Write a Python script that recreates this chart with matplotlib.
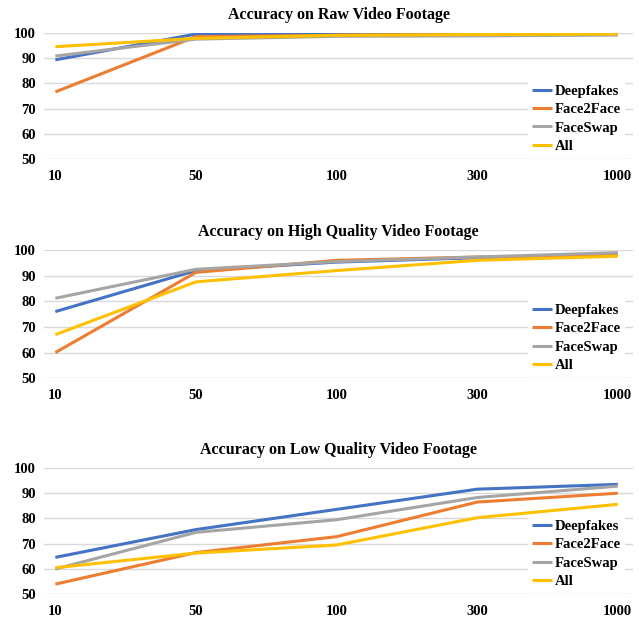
import matplotlib.pyplot as plt
import numpy as np

plt.rcParams['font.family'] = ['Liberation Serif', 'DejaVu Serif']
plt.rcParams['font.weight'] = 'bold'

samples = ["10", "50", "100", "300", "1000"]
series_names = ["Deepfakes", "Face2Face", "FaceSwap", "All"]
colors = ["#4472C4", "#ED7D31", "#A5A5A5", "#FFC000"]

raw_deepfakes = [89.3, 99.5, 99.5, 99.6, 99.6]
raw_face2face = [76.6, 98.5, 99.0, 99.3, 99.5]
raw_faceswap = [90.8, 97.5, 98.6, 98.8, 99.1]
raw_all = [94.5, 97.8, 99.0, 99.3, 99.5]

hq_deepfakes = [76.0, 92.0, 95.3, 97.0, 98.5]
hq_face2face = [60.0, 91.3, 96.0, 97.3, 98.0]
hq_faceswap = [81.2, 92.5, 95.5, 97.3, 99.0]
hq_all = [67.0, 87.6, 92.0, 96.0, 97.6]

lq_deepfakes = [64.6, 75.6, 83.6, 91.6, 93.5]
lq_face2face = [54.0, 66.5, 72.8, 86.5, 90.0]
lq_faceswap = [60.0, 74.5, 79.5, 88.3, 92.8]
lq_all = [60.5, 66.3, 69.5, 80.3, 85.6]

panels = [
    ("Accuracy on Raw Video Footage", [raw_deepfakes, raw_face2face, raw_faceswap, raw_all]),
    ("Accuracy on High Quality Video Footage", [hq_deepfakes, hq_face2face, hq_faceswap, hq_all]),
    ("Accuracy on Low Quality Video Footage", [lq_deepfakes, lq_face2face, lq_faceswap, lq_all]),
]

fig = plt.figure(figsize=(6.39, 6.19), dpi=100)
# axes boxes in figure fractions: left, bottom, width, height
boxes = [
    [0.069, 0.743, 0.922, 0.204],
    [0.069, 0.389, 0.922, 0.207],
    [0.069, 0.040, 0.922, 0.204],
]

x = np.arange(len(samples))
for (title, data), box in zip(panels, boxes):
    ax = fig.add_axes(box)
    for name, vals, c in zip(series_names, data, colors):
        ax.plot(x, vals, color=c, lw=2.2, label=name, solid_capstyle="butt")
    ax.set_ylim(50, 100)
    ax.set_xlim(-0.08, 4.11)
    ax.set_yticks(range(50, 101, 10))
    ax.set_xticks(x)
    ax.set_xticklabels(samples)
    ax.grid(axis="y", color="#D9D9D9", lw=1)
    ax.set_axisbelow(True)
    for s in ax.spines.values():
        s.set_visible(False)
    ax.tick_params(length=0, labelsize=10.5, pad=8)
    ax.tick_params(axis="y", pad=6)
    ax.set_title(title, fontsize=11.5, fontweight="bold", pad=10)
    leg = ax.legend(loc="lower right", bbox_to_anchor=(0.985, 0.02), frameon=True,
                    fontsize=10.5, handlelength=1.35, handletextpad=0.2,
                    labelspacing=0.35, borderpad=0.25, borderaxespad=0,
                    fancybox=False)
    leg.get_frame().set_edgecolor("white")
    leg.get_frame().set_facecolor("white")
    leg.get_frame().set_alpha(1)

fig.savefig("out.png", dpi=100)
